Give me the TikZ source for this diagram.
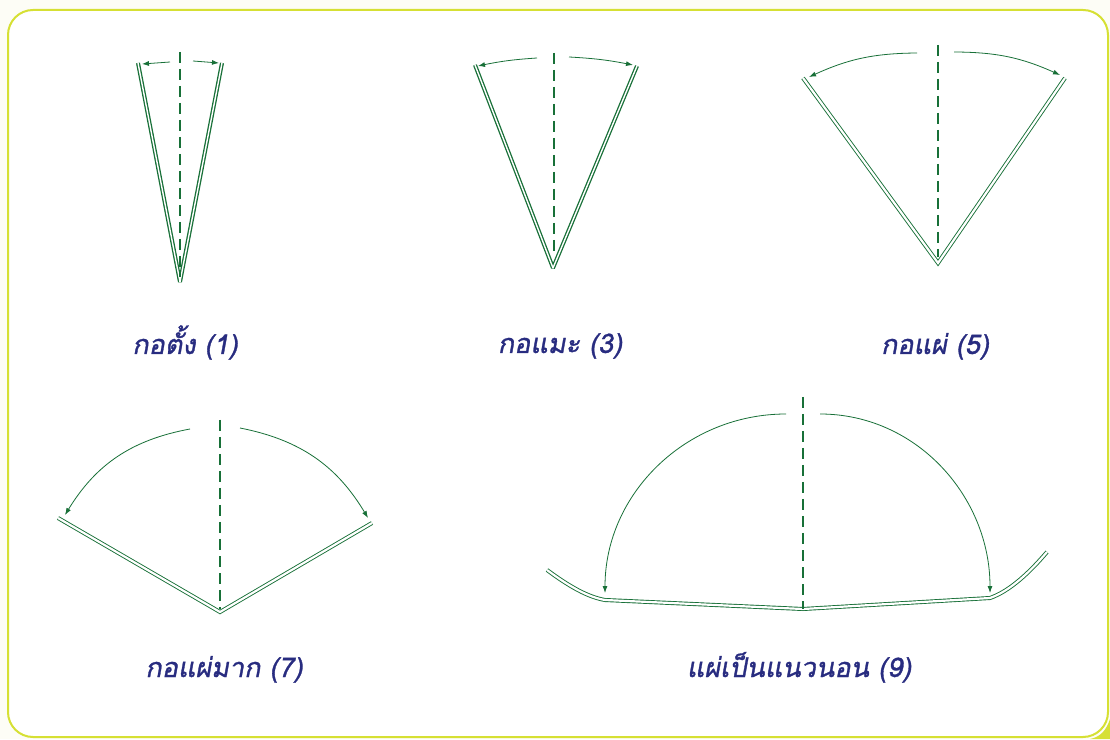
\documentclass[tikz,border=0pt]{standalone}
\usepackage{fontspec}
\newfontfamily\thaifont[Script=Thai,FakeSlant=0.18,FakeBold=1.2]{Loma}
\usetikzlibrary{arrows.meta}
\definecolor{gr}{RGB}{24,112,56}
\definecolor{bl}{RGB}{40,44,128}
\definecolor{yb}{RGB}{214,224,52}
\definecolor{cream}{RGB}{253,253,246}
\begin{document}
\begin{tikzpicture}[x=1pt,y=1pt,
 edgeA/.style={draw=gr,double=white,line width=1.3pt,double distance=1.4pt,line join=bevel},
 edgeB/.style={draw=gr,double=white,line width=0.9pt,double distance=2.2pt,line join=miter},
 midline/.style={draw=gr,line width=1.4pt,dash pattern=on 11pt off 6pt},
 swing/.style={draw=gr,line width=0.8pt,-{Latex[length=7pt,width=5pt]}},
 lbl/.style={text=bl,font=\thaifont\fontsize{27}{32}\selectfont,inner sep=0pt,anchor=base}]
\useasboundingbox (0,0) rectangle (1110,739);
\fill[cream] (0,0) rectangle (1110,739);
\draw[yb,line width=2pt,fill=white,rounded corners=25pt] (8,2) rectangle (1108,729);
\fill[yb] (1110,0) -- (1110,20) .. controls (1106,8) and (1100,2) .. (1090,0) -- cycle;

% fan 1
\coordinate (A1) at (180,457);
\coordinate (L1) at (138,676);
\coordinate (R1) at (222,676);
\coordinate (T1) at (180,687);
\coordinate (B1) at (180,462);
\path[edgeA] (L1) -- (A1) -- (R1);
\draw[midline] (T1) -- (B1);
\coordinate (s1a) at (170,677); \coordinate (e1a) at (142,675);
\coordinate (s1b) at (193,678); \coordinate (e1b) at (219,676);
\draw[swing] (s1a) -- (e1a);
\draw[swing] (s1b) -- (e1b);

% fan 3
\coordinate (A3) at (553,471);
\coordinate (L3) at (475,674);
\coordinate (R3) at (637,673);
\coordinate (T3) at (554,686);
\coordinate (B3) at (554,482);
\path[edgeA] (L3) -- (A3) -- (R3);
\draw[midline] (T3) -- (B3);
\coordinate (s3a) at (537,681); \coordinate (e3a) at (478,673);
\coordinate (s3b) at (569,682); \coordinate (e3b) at (633,674);
\draw[swing] (s3a) to[bend right=4] (e3a);
\draw[swing] (s3b) to[bend left=4] (e3b);

% fan 5
\coordinate (A5) at (938,476);
\coordinate (L5) at (803,661);
\coordinate (R5) at (1065,661);
\coordinate (T5) at (938,694);
\coordinate (B5) at (938,482);
\path[edgeB] (L5) -- (A5) -- (R5);
\draw[midline] (T5) -- (B5);
\coordinate (s5a) at (917,686); \coordinate (e5a) at (809,662);
\coordinate (s5b) at (954,687); \coordinate (e5b) at (1060,664);
\draw[swing] (s5a) to[bend right=12] (e5a);
\draw[swing] (s5b) to[bend left=12] (e5b);

% fan 7
\coordinate (A7) at (220,127);
\coordinate (L7) at (58,221);
\coordinate (R7) at (372,216);
\coordinate (T7) at (220,319);
\coordinate (B7) at (220,130);
\path[edgeB] (L7) -- (A7) -- (R7);
\draw[midline] (T7) -- (B7);
\coordinate (s7a) at (190,310); \coordinate (e7a) at (65,224);
\coordinate (s7b) at (240,311); \coordinate (e7b) at (368,221);
\draw[swing] (s7a) to[bend right=24] (e7a);
\draw[swing] (s7b) to[bend left=24] (e7b);

% fan 9
\coordinate (P1) at (547,169);
\coordinate (P2) at (605,139);
\coordinate (P3) at (803,130);
\coordinate (P4) at (990,141);
\coordinate (P5) at (1047,187);
\path[edgeB] (P1) .. controls (570,152) and (588,142) .. (P2) -- (P3) -- (P4)
  .. controls (1010,148) and (1030,167) .. (P5);
\coordinate (T9) at (803,342);
\draw[midline] (T9) -- (P3);
\coordinate (s9a) at (786,325); \coordinate (e9a) at (605,146);
\coordinate (s9b) at (820,325); \coordinate (e9b) at (990,146);
\draw[swing] (s9a) to[out=180,in=90] (e9a);
\draw[swing] (s9b) to[out=0,in=90] (e9b);

% labels
\node[lbl] (t1) at (185,385) {กอตั้ง (1)};
\node[lbl] (t3) at (560,386) {กอแมะ (3)};
\node[lbl] (t5) at (935,385) {กอแผ่ (5)};
\node[lbl] (t7) at (224,62) {กอแผ่มาก (7)};
\node[lbl] (t9) at (799,62) {แผ่เป็นแนวนอน (9)};
\end{tikzpicture}
\end{document}
